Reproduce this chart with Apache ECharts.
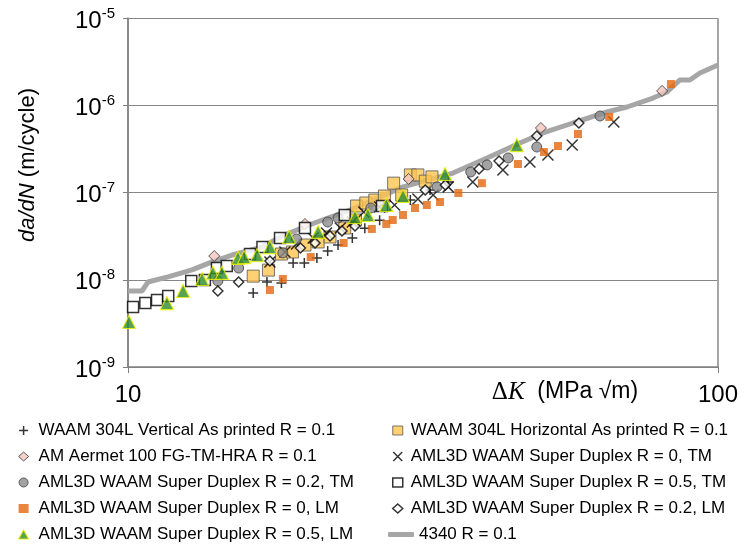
<!DOCTYPE html>
<html><head><meta charset="utf-8">
<script src="https://cdn.jsdelivr.net/npm/echarts@6/dist/echarts.min.js"></script>
<style>html,body{margin:0;padding:0;background:#fff}#c{width:746px;height:549px}</style>
</head><body><div id="c"></div>
<script>
// ---- data (ΔK in MPa√m, da/dN in m/cycle) ----
const xTicks = [10, 100];
const yExponents = [-9, -8, -7, -6, -5];
const seriesNames = [
  'WAAM 304L Vertical As printed R = 0.1',
  'WAAM 304L Horizontal As printed R = 0.1',
  'AM Aermet 100 FG-TM-HRA R = 0.1',
  'AML3D WAAM Super Duplex R = 0, TM',
  'AML3D WAAM Super Duplex R = 0.2, TM',
  'AML3D WAAM Super Duplex R = 0.5, TM',
  'AML3D WAAM Super Duplex R = 0, LM',
  'AML3D WAAM Super Duplex R = 0.2, LM',
  'AML3D WAAM Super Duplex R = 0.5, LM',
  '4340 R = 0.1'
];
const waamVertical = [[16.3,7.05e-9],[17.2,9.4e-9],[18.2,9.2e-9],[19.05,1.56e-8],[19.9,1.56e-8],[20.9,1.78e-8],[21.8,2.14e-8],[22.7,2.5e-8],[24.0,3.0e-8],[25.2,3.9e-8],[26.7,4.8e-8],[30.1,8.2e-8],[32.5,1.07e-7],[34.9,1.32e-7]];
const waamHorizontal = [[16.3,1.1e-8],[17.3,1.29e-8],[18.2,1.97e-8],[19.0,2.08e-8],[19.95,2.5e-8],[21.0,2.71e-8],[22.0,3.09e-8],[23.3,3.92e-8],[24.3,4.84e-8],[24.4,7.0e-8],[25.3,7.58e-8],[26.2,8.2e-8],[27.2,9.12e-8],[28.2,1.28e-7],[29.1,9.36e-8],[30.1,1.59e-7],[31.0,1.59e-7],[31.9,1.35e-7],[32.75,1.51e-7]];
const aermet = [[14.0,1.87e-8],[19.95,4.36e-8],[29.9,1.43e-7],[50.1,5.49e-7],[80.4,1.46e-6]];
const sd0TM = [[17.4,1.6e-8],[18.45,2.08e-8],[19.3,2.57e-8],[20.6,3.01e-8],[21.7,3.43e-8],[22.9,3.92e-8],[24.0,4.59e-8],[25.1,5.98e-8],[26.7,6.82e-8],[28.3,7.19e-8],[31.0,8.42e-8],[32.9,9.36e-8],[34.9,1.16e-7],[38.4,1.32e-7],[43.2,1.81e-7],[48.0,2.24e-7],[51.5,2.69e-7],[56.6,3.5e-7],[66.6,6.43e-7]];
const sd02TM = [[14.2,9.67e-9],[15.4,1.36e-8],[18.3,2.03e-8],[19.3,2.93e-8],[21.8,4.59e-8],[22.7,5.1e-8],[25.8,6.64e-8],[33.4,1.16e-7],[38.1,1.72e-7],[40.6,2.07e-7],[44.1,2.49e-7],[49.3,3.32e-7],[63.1,7.53e-7]];
const sd05TM = [[10.2,4.87e-9],[10.7,5.41e-9],[11.2,5.86e-9],[11.7,6.51e-9],[12.8,9.67e-9],[13.5,9.93e-9],[14.15,1.36e-8],[14.7,1.44e-8],[16.1,1.97e-8],[16.9,2.37e-8],[18.1,3.01e-8],[19.95,3.92e-8],[23.3,5.52e-8],[26.95,7.0e-8]];
const sd0LM = [[17.4,7.63e-9],[18.3,1.02e-8],[20.4,1.82e-8],[23.2,2.64e-8],[25.9,3.82e-8],[27.4,4.36e-8],[28.1,4.84e-8],[29.25,5.52e-8],[30.65,6.64e-8],[32.1,7.19e-8],[33.8,7.78e-8],[36.3,9.87e-8],[39.8,1.28e-7],[45.8,2.12e-7],[50.7,2.91e-7],[53.55,3.41e-7],[57.9,4.68e-7],[65.4,7.33e-7],[83.2,1.75e-6]];
const sd02LM = [[14.2,7.43e-9],[15.4,9.42e-9],[17.4,1.64e-8],[19.6,2.31e-8],[20.75,2.64e-8],[22.0,3.17e-8],[23.05,3.62e-8],[24.25,4.13e-8],[31.9,1.07e-7],[34.5,1.22e-7],[39.35,1.86e-7],[42.55,2.3e-7],[49.3,4.44e-7],[58.1,6.26e-7]];
const sd05LM = [[10.04,3.28e-9],[11.64,5.41e-9],[12.4,7.43e-9],[13.35,1.02e-8],[13.93,1.2e-8],[14.43,1.2e-8],[15.36,1.78e-8],[15.73,1.82e-8],[16.55,1.92e-8],[17.4,2.37e-8],[18.75,3.09e-8],[21.0,3.53e-8],[24.25,5.24e-8],[25.5,5.52e-8],[27.4,7.19e-8],[29.25,9.12e-8],[34.46,1.63e-7],[45.6,3.5e-7]];
const steel4340 = [[10,7.43e-9],[10.56,7.43e-9],[10.81,9.42e-9],[11.69,1.08e-8],[12.84,1.3e-8],[13.88,1.6e-8],[15.01,1.92e-8],[16.87,2.37e-8],[18.31,3.2e-8],[20.91,4.59e-8],[23.78,6.3e-8],[29.25,1.16e-7],[35.55,1.67e-7],[40.6,2.48e-7],[46.17,3.69e-7],[50.5,4.81e-7],[56.78,6.26e-7],[64.84,8.37e-7],[70.1,9.55e-7],[77.6,1.21e-6],[81.95,1.42e-6],[86.2,1.95e-6],[89.6,1.95e-6],[93.2,2.34e-6],[100,2.89e-6]];

// ---- styles ----
const SANS = '"Liberation Sans", Arial, sans-serif';
const SERIF = '"Liberation Serif", "Times New Roman", serif';
const PLUS = 'path://M0,5L10,5M5,0L5,10';
const CROSS = 'path://M0,0L10,10M10,0L0,10';

function sc(name, data, symbol, size, style, z) {
  return { type: 'scatter', name, data, symbol, symbolSize: size, itemStyle: style, z: z || 3, emphasis: { disabled: true } };
}
const styles = [
  { color: 'transparent', borderColor: '#000', borderWidth: 1.5 },
  { color: '#FFC54F', borderColor: '#555', borderWidth: 1 },
  { color: '#F4C6BF', borderColor: '#333', borderWidth: 1 },
  { color: 'transparent', borderColor: '#000', borderWidth: 1.5 },
  { color: '#8C8C8C', borderColor: '#404040', borderWidth: 1 },
  { color: '#fff', borderColor: '#000', borderWidth: 1.5 },
  { color: '#E2670F', borderWidth: 0 },
  { color: '#fff', borderColor: '#000', borderWidth: 1.5 },
  { color: '#2E8B2E', borderColor: '#F0F000', borderWidth: 1.2 }
];
const symbols = [PLUS, 'rect', 'diamond', CROSS, 'circle', 'rect', 'rect', 'diamond', 'triangle'];
const sizes = [10, 12, 11, 11, 10, 11, 8, 10, 13];
const datas = [waamVertical, waamHorizontal, aermet, sd0TM, sd02TM, sd05TM, sd0LM, sd02LM, sd05LM];

const series = [{
  type: 'line', name: seriesNames[9], data: steel4340, showSymbol: false, symbol: 'none',
  lineStyle: { color: '#A6A6A6', width: 5 }, itemStyle: { color: '#A6A6A6' }, z: 2, emphasis: { disabled: true }
}];
datas.forEach((d, i) => series.push(sc(seriesNames[i], d, symbols[i], sizes[i], styles[i])));

function legendItem(i) {
  const s = styles[i];
  return { name: seriesNames[i], icon: symbols[i],
    itemStyle: { color: s.color, borderColor: s.borderColor || s.color, borderWidth: s.borderWidth } };
}
const legText = (pad) => ({ fontFamily: SANS, fontSize: 17, color: '#000', lineHeight: 17, padding: [0, 0, 0, pad] });

const chart = echarts.init(document.getElementById('c'), null, { renderer: 'canvas' });
chart.setOption({
  animation: false,
  backgroundColor: '#fff',
  grid: { left: 128, right: 28, top: 18, bottom: 182, containLabel: false },
  xAxis: {
    type: 'log', logBase: 10, min: xTicks[0], max: xTicks[1],
    axisLine: { show: true, onZero: false, lineStyle: { color: '#808080', width: 1.5 } },
    axisTick: { show: true, inside: false, length: 6, lineStyle: { color: '#808080' } },
    minorTick: { show: false },
    splitLine: { show: true, lineStyle: { color: '#A6A6A6', width: 2 } },
    axisLabel: { fontFamily: SANS, fontSize: 24, color: '#000', margin: 16, formatter: v => String(Math.round(v)) }
  },
  yAxis: {
    type: 'log', logBase: 10, min: Math.pow(10, yExponents[0]), max: Math.pow(10, yExponents[yExponents.length - 1]),
    axisLine: { show: true, onZero: false, lineStyle: { color: '#808080', width: 1.5 } },
    axisTick: { show: true, inside: false, length: 5, lineStyle: { color: '#808080' } },
    splitLine: { show: true, lineStyle: { color: '#868686', width: 1 } },
    axisLabel: {
      margin: 13, padding: [6, 0, 0, 0],
      formatter: v => '{b|10}{s|' + Math.round(Math.log10(v)) + '}',
      rich: {
        b: { fontFamily: SANS, fontSize: 24, color: '#000', lineHeight: 30 },
        s: { fontFamily: SANS, fontSize: 15, color: '#000', lineHeight: 16, verticalAlign: 'top' }
      }
    }
  },
  legend: [
    { data: [0, 2, 4, 6, 8].map(i => legendItem(i)), orient: 'vertical', left: 13, top: 417,
      itemWidth: 10, itemHeight: 9, itemGap: 9, textStyle: legText(5), selectedMode: false },
    { data: [1, 3, 5, 7].map(i => legendItem(i)), orient: 'vertical', left: 387, top: 417,
      itemWidth: 10, itemHeight: 9, itemGap: 9, textStyle: legText(3), selectedMode: false },
    { data: [{ name: seriesNames[9], icon: 'roundRect', itemStyle: { color: '#A6A6A6' } }], left: 383, top: 521,
      itemWidth: 26, itemHeight: 5, textStyle: legText(0), selectedMode: false }
  ],
  graphic: [
    { type: 'text', x: 28, y: 165, rotation: Math.PI / 2, z: 10,
      style: { text: '{i|da/dN} (m/cycle)', align: 'center', verticalAlign: 'middle', textAlign: 'center', textVerticalAlign: 'middle',
        font: '22px ' + SANS, fill: '#000',
        rich: { i: { fontFamily: SANS, fontSize: 22, fontStyle: 'italic', fill: '#000' } } } },
    { type: 'text', x: 565, y: 392, z: 10,
      style: { text: '{d|Δ}{k|K}{n|  (MPa √m)}', align: 'center', verticalAlign: 'middle', textAlign: 'center', textVerticalAlign: 'middle',
        font: '23px ' + SANS, fill: '#000',
        rich: {
          d: { fontFamily: SERIF, fontSize: 25, fill: '#000' },
          k: { fontFamily: SERIF, fontSize: 25, fontStyle: 'italic', fill: '#000' },
          n: { fontFamily: SANS, fontSize: 23, fill: '#000' }
        } } }
  ],
  series
});
</script></body></html>
